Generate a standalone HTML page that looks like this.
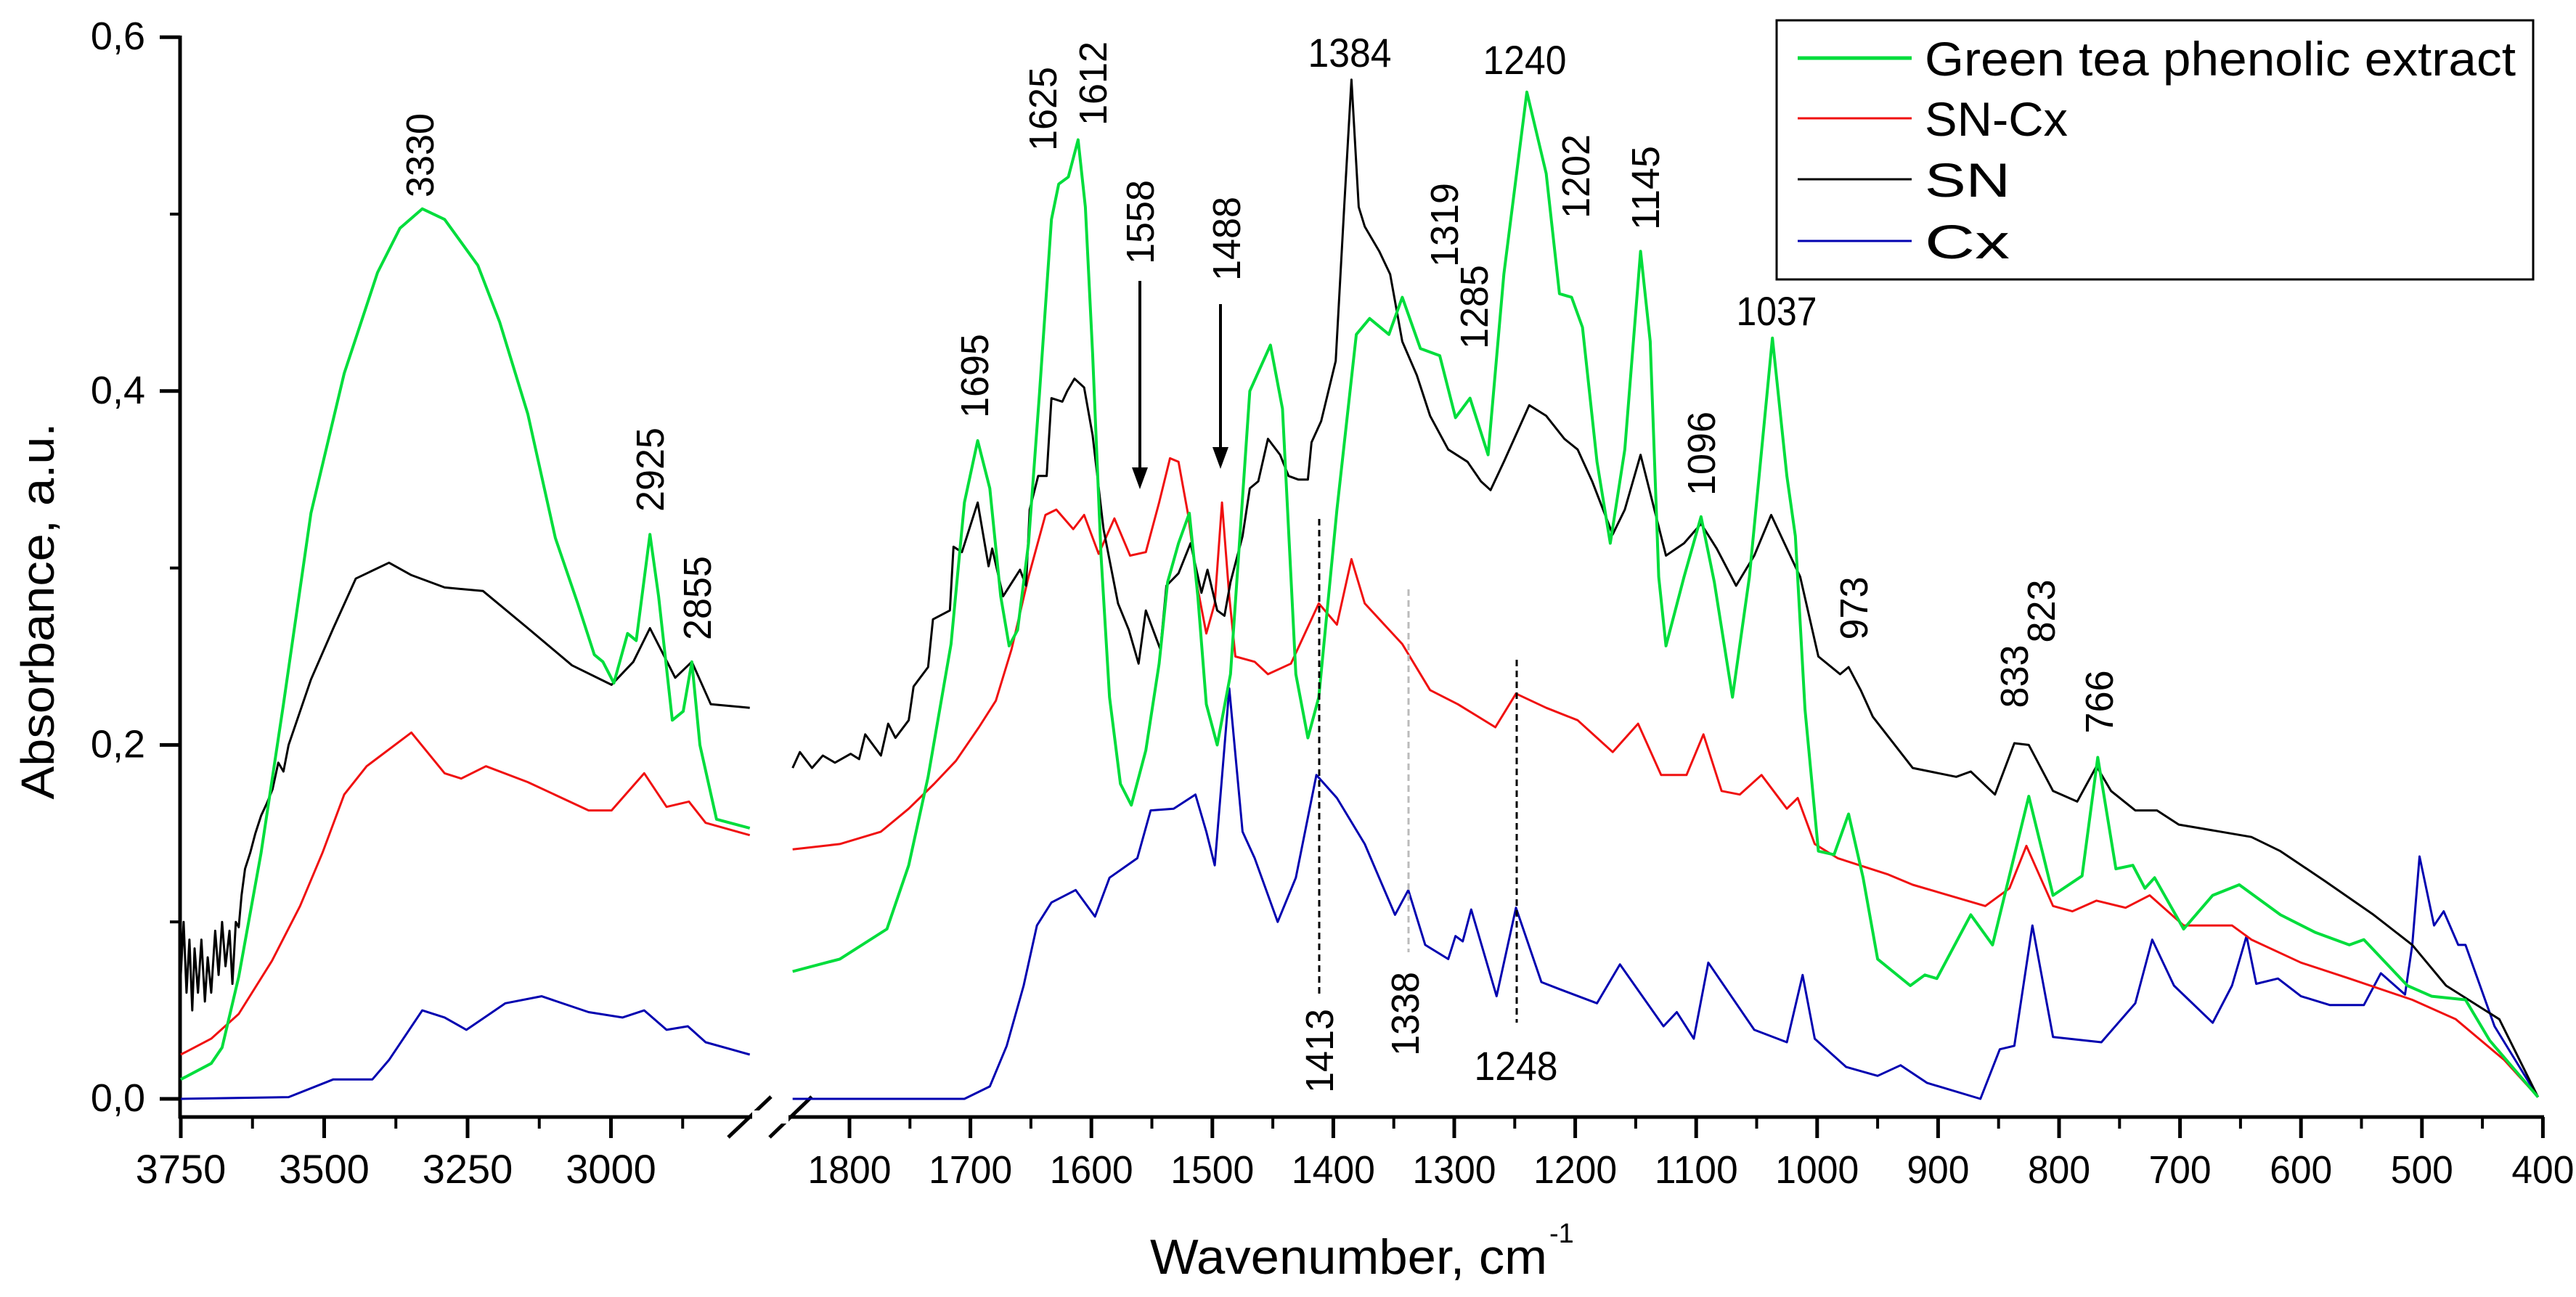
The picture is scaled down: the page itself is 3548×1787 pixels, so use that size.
<!DOCTYPE html>
<html><head><meta charset="utf-8"><style>
html,body{margin:0;padding:0;background:#fff;}
svg{display:block;font-family:"Liberation Sans",Arial,sans-serif;}
</style></head><body>
<svg id="chart" width="3548" height="1787" viewBox="0 0 3548 1787" xmlns="http://www.w3.org/2000/svg">
<g id="axes"></g>
<g id="series"></g>
<g id="annotations"></g>
<g id="legend"></g>
</svg>
<script>
// ---- data ----
const yTicks = [0, 0.2, 0.4, 0.6];
const yTickLabels = ["0,0", "0,2", "0,4", "0,6"];
const yMinorTicks = [0.1, 0.3, 0.5];
const xLeftTicks = [3750, 3500, 3250, 3000];
const xLeftMinor = [3625, 3375, 3125, 2875];
const xRightTicks = [1800,1700,1600,1500,1400,1300,1200,1100,1000,900,800,700,600,500,400];
const seriesNames = ["Green tea phenolic extract", "SN-Cx", "SN", "Cx"];

const greenLeft = [[3750,0.011],[3697,0.02],[3678,0.029],[3649,0.069],[3610,0.139],[3571,0.223],[3523,0.331],[3465,0.410],[3407,0.467],[3368,0.492],[3329,0.503],[3290,0.497],[3232,0.471],[3194,0.439],[3145,0.387],[3097,0.317],[3058,0.280],[3029,0.251],[3014,0.247],[2995,0.235],[2971,0.263],[2956,0.259],[2932,0.319],[2917,0.284],[2893,0.214],[2874,0.219],[2859,0.247],[2845,0.200],[2816,0.158],[2758,0.153]];
const blackLeft = [[3750,0.07],[3745,0.10],[3740,0.06],[3735,0.09],[3730,0.05],[3726,0.085],[3720,0.06],[3714,0.09],[3708,0.055],[3703,0.08],[3697,0.06],[3690,0.095],[3684,0.07],[3678,0.10],[3672,0.075],[3665,0.095],[3660,0.065],[3654,0.10],[3649,0.097],[3644,0.115],[3638,0.13],[3629,0.139],[3620,0.15],[3610,0.16],[3600,0.167],[3590,0.175],[3580,0.19],[3571,0.185],[3562,0.20],[3523,0.237],[3484,0.266],[3445,0.294],[3387,0.303],[3348,0.296],[3290,0.289],[3223,0.287],[3145,0.266],[3068,0.245],[2999,0.234],[2961,0.247],[2932,0.266],[2888,0.238],[2859,0.247],[2826,0.223],[2758,0.221]];
const redLeft = [[3750,0.025],[3697,0.034],[3649,0.048],[3591,0.078],[3542,0.109],[3503,0.139],[3465,0.172],[3426,0.188],[3348,0.207],[3290,0.184],[3261,0.181],[3218,0.188],[3145,0.179],[3039,0.163],[2999,0.163],[2942,0.184],[2903,0.165],[2864,0.168],[2835,0.156],[2758,0.149]];
const blueLeft = [[3750,0],[3562,0.001],[3484,0.011],[3416,0.011],[3387,0.022],[3329,0.050],[3290,0.046],[3252,0.039],[3184,0.054],[3121,0.058],[3039,0.049],[2980,0.046],[2942,0.050],[2903,0.039],[2866,0.041],[2835,0.032],[2758,0.025]];

const greenRight = [[1847,0.072],[1808,0.079],[1769,0.096],[1751,0.132],[1735,0.182],[1716,0.257],[1705,0.337],[1694,0.372],[1684,0.345],[1675,0.284],[1668,0.256],[1661,0.265],[1652,0.314],[1643,0.398],[1633,0.497],[1627,0.517],[1619,0.521],[1611,0.542],[1605,0.504],[1599,0.421],[1592,0.307],[1585,0.227],[1576,0.178],[1567,0.166],[1555,0.197],[1544,0.246],[1537,0.292],[1528,0.314],[1519,0.331],[1512,0.284],[1505,0.223],[1496,0.200],[1485,0.24],[1469,0.40],[1452,0.426],[1442,0.39],[1431,0.24],[1421,0.204],[1412,0.227],[1397,0.333],[1381,0.432],[1370,0.441],[1354,0.432],[1343,0.453],[1328,0.424],[1312,0.420],[1299,0.385],[1287,0.396],[1272,0.364],[1259,0.466],[1240,0.569],[1224,0.523],[1213,0.455],[1203,0.453],[1194,0.436],[1182,0.360],[1171,0.314],[1159,0.367],[1146,0.479],[1138,0.428],[1131,0.295],[1125,0.256],[1110,0.295],[1096,0.329],[1085,0.292],[1070,0.227],[1056,0.295],[1037,0.430],[1025,0.352],[1018,0.318],[1010,0.22],[999,0.140],[986,0.138],[974,0.161],[962,0.125],[950,0.079],[923,0.064],[911,0.07],[901,0.068],[873,0.104],[855,0.087],[825,0.171],[805,0.115],[781,0.126],[768,0.193],[753,0.130],[739,0.132],[729,0.119],[721,0.125],[697,0.096],[673,0.115],[651,0.121],[617,0.104],[588,0.094],[560,0.087],[548,0.090],[512,0.064],[492,0.058],[464,0.056],[444,0.033],[404,0.001]];
const blackRight = [[1847,0.187],[1841,0.196],[1831,0.187],[1822,0.194],[1812,0.190],[1799,0.195],[1792,0.192],[1787,0.206],[1774,0.194],[1768,0.212],[1762,0.204],[1751,0.214],[1747,0.233],[1735,0.244],[1731,0.271],[1717,0.276],[1714,0.312],[1707,0.309],[1694,0.337],[1685,0.301],[1682,0.311],[1673,0.284],[1659,0.299],[1654,0.290],[1651,0.333],[1644,0.352],[1637,0.352],[1633,0.396],[1624,0.394],[1620,0.400],[1614,0.407],[1606,0.402],[1599,0.375],[1590,0.322],[1578,0.280],[1569,0.265],[1561,0.246],[1555,0.276],[1543,0.254],[1538,0.290],[1528,0.297],[1518,0.314],[1509,0.286],[1504,0.299],[1496,0.276],[1490,0.273],[1485,0.292],[1475,0.318],[1469,0.345],[1462,0.349],[1454,0.373],[1444,0.364],[1437,0.352],[1429,0.350],[1421,0.350],[1418,0.371],[1410,0.383],[1398,0.417],[1391,0.504],[1385,0.576],[1379,0.504],[1374,0.493],[1362,0.479],[1353,0.466],[1343,0.428],[1331,0.409],[1320,0.386],[1305,0.367],[1289,0.360],[1278,0.349],[1270,0.344],[1259,0.360],[1238,0.392],[1224,0.386],[1209,0.373],[1198,0.367],[1186,0.349],[1169,0.319],[1159,0.333],[1146,0.364],[1136,0.337],[1125,0.307],[1110,0.314],[1096,0.325],[1083,0.311],[1067,0.290],[1052,0.307],[1038,0.330],[1025,0.311],[1014,0.295],[999,0.250],[981,0.240],[974,0.244],[964,0.231],[954,0.216],[921,0.187],[885,0.182],[873,0.185],[853,0.172],[837,0.201],[825,0.200],[805,0.174],[785,0.168],[769,0.188],[757,0.174],[737,0.163],[719,0.163],[701,0.155],[641,0.148],[617,0.140],[580,0.123],[540,0.104],[508,0.087],[480,0.064],[436,0.045],[404,0.001]];
const redRight = [[1847,0.141],[1808,0.144],[1774,0.151],[1751,0.164],[1730,0.178],[1712,0.191],[1693,0.210],[1679,0.225],[1666,0.254],[1652,0.295],[1638,0.330],[1629,0.333],[1615,0.322],[1606,0.330],[1594,0.308],[1581,0.328],[1568,0.307],[1555,0.309],[1544,0.337],[1535,0.362],[1528,0.360],[1520,0.330],[1512,0.288],[1505,0.263],[1498,0.280],[1492,0.337],[1486,0.284],[1481,0.250],[1465,0.247],[1454,0.240],[1435,0.246],[1412,0.280],[1397,0.268],[1385,0.305],[1374,0.280],[1343,0.257],[1320,0.231],[1297,0.223],[1266,0.210],[1249,0.229],[1224,0.221],[1198,0.214],[1169,0.196],[1148,0.212],[1129,0.183],[1108,0.183],[1094,0.206],[1079,0.174],[1064,0.172],[1046,0.183],[1025,0.164],[1016,0.170],[1002,0.144],[983,0.136],[942,0.127],[921,0.121],[861,0.109],[841,0.119],[827,0.143],[805,0.109],[789,0.106],[769,0.112],[745,0.108],[725,0.115],[697,0.098],[657,0.098],[641,0.090],[600,0.077],[560,0.068],[508,0.056],[472,0.045],[432,0.022],[404,0.001]];
const blueRight = [[1847,0.0],[1705,0.0],[1684,0.007],[1670,0.030],[1656,0.064],[1645,0.098],[1633,0.111],[1613,0.118],[1597,0.103],[1585,0.125],[1562,0.136],[1551,0.163],[1532,0.164],[1514,0.172],[1505,0.151],[1498,0.132],[1486,0.232],[1475,0.151],[1465,0.136],[1446,0.100],[1431,0.125],[1414,0.183],[1397,0.170],[1374,0.144],[1349,0.104],[1338,0.118],[1324,0.087],[1305,0.079],[1299,0.092],[1293,0.089],[1286,0.107],[1265,0.058],[1249,0.108],[1228,0.066],[1213,0.062],[1182,0.054],[1163,0.076],[1127,0.041],[1116,0.049],[1102,0.034],[1090,0.077],[1052,0.039],[1025,0.032],[1012,0.070],[1002,0.034],[976,0.018],[950,0.013],[931,0.019],[909,0.009],[865,0.0],[849,0.028],[837,0.030],[822,0.098],[805,0.035],[765,0.032],[737,0.054],[723,0.090],[705,0.064],[673,0.043],[657,0.064],[645,0.092],[637,0.065],[619,0.068],[600,0.058],[576,0.053],[548,0.053],[534,0.071],[514,0.059],[508,0.087],[502,0.137],[490,0.098],[482,0.106],[470,0.087],[464,0.087],[440,0.041],[404,0.001]];

// ---- scales ----
function xL(w){ return 249 + (3750 - w) * 0.79; }
function xR(w){ return 1170 + (1800 - w) * 1.666; }
function y(v){ return 1514 - v * 2438; }

const NS = "http://www.w3.org/2000/svg";
function mk(tag, attrs, parent){ const e = document.createElementNS(NS, tag); for (const k in attrs) e.setAttribute(k, attrs[k]); parent.appendChild(e); return e; }
const axes = document.getElementById('axes');
const series = document.getElementById('series');
const ann = document.getElementById('annotations');
const legend = document.getElementById('legend');

// y axis
let el = mk('line', {x1:248, y1:49, x2:248, y2:1541, stroke:'#000', 'stroke-width':5}, axes);


yTicks.forEach((t, i) => {
  const tk = mk('line', {x1:220, y1:y(t), x2:248, y2:y(t), stroke:'#000', 'stroke-width':5}, axes);
  
  
  const lb = mk('text', {x:200, y:y(t)+17, 'font-size':54, 'text-anchor':'end', fill:'#000'}, axes);
  lb.textContent = yTickLabels[i];
  
  
});
yMinorTicks.forEach(t => {
  const tk = mk('line', {x1:234, y1:y(t), x2:248, y2:y(t), stroke:'#000', 'stroke-width':4}, axes);
  
  
});
el = mk('text', {x:0, y:0, 'font-size':64, 'text-anchor':'middle', textLength:519, lengthAdjust:'spacingAndGlyphs', transform:'translate(74,842) rotate(-90)'}, axes);
el.textContent = 'Absorbance, a.u.';



// x axis
el = mk('line', {x1:246, y1:1539, x2:3504, y2:1539, stroke:'#000', 'stroke-width':5}, axes);


[[1003,1567,1062,1511],[1060,1567,1118,1511]].forEach(b => {
  const s = mk('line', {x1:b[0], y1:b[1], x2:b[2], y2:b[3], stroke:'#000', 'stroke-width':5}, axes);
  
  
});
el = mk('rect', {x:1036, y:1530, width:50, height:18, fill:'#fff'}, axes);


xLeftTicks.forEach(t => {
  const tk = mk('line', {x1:xL(t), y1:1539, x2:xL(t), y2:1568, stroke:'#000', 'stroke-width':5}, axes);
  
  
  const lb = mk('text', {x:xL(t), y:1630, 'font-size':56, 'text-anchor':'middle'}, axes);
  lb.textContent = String(t);
  
  
});
xLeftMinor.forEach(t => {
  const tk = mk('line', {x1:xL(t), y1:1539, x2:xL(t), y2:1555, stroke:'#000', 'stroke-width':4}, axes);
  
  
});
xRightTicks.forEach(t => {
  const tk = mk('line', {x1:xR(t), y1:1539, x2:xR(t), y2:1568, stroke:'#000', 'stroke-width':5}, axes);
  
  
  const lb = mk('text', {x:xR(t), y:1630, 'font-size':54, 'text-anchor':'middle', textLength: t>=1000?115:86, lengthAdjust:'spacingAndGlyphs'}, axes);
  lb.textContent = String(t);
  
  
  if (t > 400) {
    const m = mk('line', {x1:xR(t-50), y1:1539, x2:xR(t-50), y2:1555, stroke:'#000', 'stroke-width':4}, axes);
    
    
  }
});
el = mk('text', {x:1584, y:1755, 'font-size':68, textLength:547, lengthAdjust:'spacingAndGlyphs'}, axes);
el.textContent = 'Wavenumber, cm';


el = mk('text', {x:2134, y:1712, 'font-size':38}, axes);
el.textContent = '-1';



// series
function path(pts, fx){ return pts.map((p,i)=>(i?'L':'M')+fx(p[0]).toFixed(1)+' '+y(p[1]).toFixed(1)).join(' '); }
const defs = [
  ['blue', blueLeft, blueRight, '#0000b0', 3],
  ['red', redLeft, redRight, '#f01010', 3],
  ['black', blackLeft, blackRight, '#000000', 3],
  ['green', greenLeft, greenRight, '#00dd3c', 4]
];
defs.forEach(d => {
  const a = mk('path', {d:path(d[1], xL), fill:'none', stroke:d[3], 'stroke-width':d[4], 'stroke-linejoin':'round'}, series);
  
  
  const b = mk('path', {d:path(d[2], xR), fill:'none', stroke:d[3], 'stroke-width':d[4], 'stroke-linejoin':'round'}, series);
  
  
});

// annotations
const vLabels = [["3330",578,214],["2925",895,647],["2855",960,824],["1695",1342,518],["1625",1436,150],["1612",1505,115],["1558",1570,306],["1488",1689,329],["1319",1989,310],["1285",2030,423],["1202",2170,243],["1145",2266,259],["1096",2343,625],["973",2553,838],["1413",1817,1448],["1338",1935,1397],["833",2774,932],["823",2811,842],["766",2891,967]];
vLabels.forEach(l => {
  const t = mk('text', {x:0, y:0, 'font-size':54, 'text-anchor':'middle', textLength: l[0].length*29, lengthAdjust:'spacingAndGlyphs', transform:'translate('+(l[1]+19)+','+l[2]+') rotate(-90)'}, ann);
  t.textContent = l[0];
  
  
});
const hLabels = [["1384",1859,92,115],["1240",2100,102,115],["1037",2447,448,111],["1248",2088,1488,115]];
hLabels.forEach(l => {
  const t = mk('text', {x:l[1], y:l[2], 'font-size':56, 'text-anchor':'middle', textLength:l[3], lengthAdjust:'spacingAndGlyphs'}, ann);
  t.textContent = l[0];
  
  
});
[[1570,387,674],[1681,419,646]].forEach(a => {
  const ln = mk('line', {x1:a[0], y1:a[1], x2:a[0], y2:a[2]-25, stroke:'#000', 'stroke-width':4}, ann);
  
  
  const hd = mk('polygon', {points:(a[0]-11)+','+(a[2]-30)+' '+(a[0]+11)+','+(a[2]-30)+' '+a[0]+','+a[2], fill:'#000'}, ann);
  
  
});
[[1817,715,1372,'#000'],[1940,812,1312,'#bbb'],[2089,909,1409,'#000']].forEach(d => {
  const ln = mk('line', {x1:d[0], y1:d[1], x2:d[0], y2:d[2], stroke:d[3], 'stroke-width':3, 'stroke-dasharray':'9,6'}, ann);
  
  
});

// legend
el = mk('rect', {x:2447, y:28, width:1042, height:357, fill:'#fff', stroke:'#000', 'stroke-width':3}, legend);


const legColors = ['#00dd3c', '#f01010', '#000000', '#0000b0'];
const legY = [80, 163, 247, 332];
const legLen = [814, 197, 118, 117];
seriesNames.forEach((n, i) => {
  const g = mk('g', {}, legend);
  
  
  const ln = mk('line', {x1:2476, y1:legY[i], x2:2633, y2:legY[i], stroke:legColors[i], 'stroke-width':i===0?5:3}, g);
  
  
  const t = mk('text', {x:2651, y:legY[i]+24, 'font-size':66, textLength:legLen[i], lengthAdjust:'spacingAndGlyphs'}, g);
  t.textContent = n;
  
  
});
</script>
</body></html>
